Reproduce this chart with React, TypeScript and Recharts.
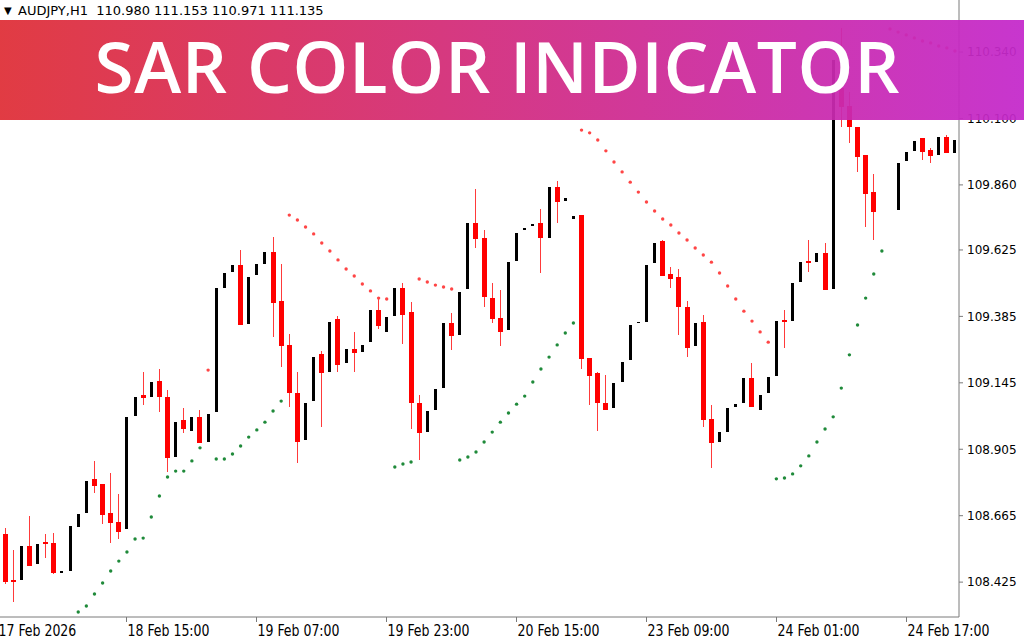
import React from 'react';
import { ComposedChart, Bar, Line, XAxis, YAxis } from 'recharts';

// x axis labels sit on every 16th bar; -1 is the bar just off the left edge
const tickIdx = [-1, 15, 31, 47, 63, 79, 95, 111];
const tickLabels = ['17 Feb 2026', '18 Feb 15:00', '19 Feb 07:00', '19 Feb 23:00', '20 Feb 15:00', '23 Feb 09:00', '24 Feb 01:00', '24 Feb 17:00'];
const priceTicks = [110.34, 110.1, 109.86, 109.625, 109.385, 109.145, 108.905, 108.665, 108.425];

const opens = [
  108.599, 108.432, 108.432, 108.556, 108.490, 108.570, 108.567, 108.461, 108.465, 108.624,
  108.675, 108.798, 108.780, 108.675, 108.643, 108.617, 109.025, 109.101, 109.094, 109.152,
  109.094, 108.877, 109.011, 108.971, 109.022, 108.931, 109.040, 109.487, 109.545, 109.571,
  109.357, 109.534, 109.574, 109.618, 109.441, 109.282, 109.108, 108.938, 109.079, 109.249,
  109.184, 109.376, 109.217, 109.267, 109.256, 109.292, 109.408, 109.329, 109.386, 109.487,
  109.401, 109.072, 108.967, 109.047, 109.126, 109.361, 109.318, 109.484, 109.722, 109.668,
  109.451, 109.379, 109.336, 109.585, 109.697, 109.711, 109.722, 109.668, 109.852, 109.802,
  109.737, 109.751, 109.235, 109.181, 109.072, 109.054, 109.148, 109.228, 109.361, 109.365,
  109.578, 109.657, 109.538, 109.527, 109.419, 109.278, 109.365, 109.014, 108.931, 108.967,
  109.058, 109.072, 109.163, 109.047, 109.108, 109.170, 109.372, 109.368, 109.509, 109.585,
  109.581, 109.614, 109.484, 110.210, 110.145, 110.069, 109.968, 109.834, null, null,
  109.769, 109.946, 109.983, 110.029, 109.986, 109.968, 110.033, 109.975,
];
const highs = [
  108.621, 108.541, 108.556, 108.664, 108.563, 108.599, 108.603, 108.465, 108.628, 108.671,
  108.791, 108.862, 108.780, 108.819, 108.744, 109.022, 109.094, 109.184, 109.148, 109.195,
  109.119, 109.004, 109.054, 109.022, 109.047, 109.032, 109.487, 109.542, 109.571, 109.625,
  109.527, 109.574, 109.618, 109.672, 109.574, 109.321, 109.184, 109.072, 109.238, 109.260,
  109.365, 109.386, 109.267, 109.329, 109.282, 109.408, 109.451, 109.383, 109.487, 109.506,
  109.437, 109.101, 109.043, 109.123, 109.361, 109.397, 109.473, 109.722, 109.845, 109.697,
  109.506, 109.480, 109.581, 109.686, 109.704, 109.719, 109.773, 109.852, 109.874, 109.813,
  109.748, 109.751, 109.235, 109.184, 109.173, 109.144, 109.220, 109.354, 109.365, 109.571,
  109.650, 109.661, 109.563, 109.556, 109.441, 109.361, 109.390, 109.065, 108.967, 109.054,
  109.069, 109.163, 109.217, 109.101, 109.166, 109.368, 109.408, 109.506, 109.581, 109.661,
  109.614, 109.650, 110.311, 110.427, 110.196, 110.069, 109.968, 109.899, null, null,
  109.939, 109.979, 110.019, 110.029, 109.993, 110.033, 110.040, 110.022,
];
const lows = [
  108.418, 108.353, 108.432, 108.483, 108.490, 108.512, 108.454, 108.461, 108.465, 108.624,
  108.675, 108.747, 108.635, 108.566, 108.581, 108.617, 109.025, 109.065, 109.094, 109.040,
  108.823, 108.877, 108.964, 108.971, 108.928, 108.931, 109.040, 109.487, 109.545, 109.354,
  109.357, 109.534, 109.574, 109.311, 109.202, 109.058, 108.855, 108.938, 109.079, 108.985,
  109.184, 109.184, 109.217, 109.184, 109.256, 109.292, 109.339, 109.329, 109.386, 109.285,
  108.978, 108.866, 108.967, 109.047, 109.126, 109.264, 109.318, 109.484, 109.632, 109.419,
  109.361, 109.278, 109.336, 109.585, 109.697, 109.711, 109.542, 109.668, 109.722, 109.802,
  109.737, 109.195, 109.065, 108.971, 109.047, 109.054, 109.148, 109.228, 109.361, 109.365,
  109.578, 109.531, 109.487, 109.318, 109.238, 109.278, 108.985, 108.837, 108.931, 108.967,
  109.058, 109.072, 109.058, 109.047, 109.108, 109.170, 109.271, 109.368, 109.509, 109.545,
  109.581, 109.480, 109.484, 110.069, 110.011, 109.907, 109.708, 109.661, null, null,
  109.769, 109.946, 109.983, 109.950, 109.939, 109.968, 109.975, 109.975,
];
const closes = [
  108.425, 108.425, 108.556, 108.483, 108.563, 108.563, 108.458, 108.465, 108.628, 108.671,
  108.791, 108.773, 108.668, 108.639, 108.606, 109.022, 109.094, 109.090, 109.148, 109.094,
  108.873, 109.004, 108.978, 109.022, 108.928, 109.032, 109.487, 109.542, 109.571, 109.354,
  109.527, 109.574, 109.618, 109.433, 109.278, 109.108, 108.931, 109.072, 109.238, 109.181,
  109.365, 109.209, 109.267, 109.253, 109.282, 109.408, 109.350, 109.383, 109.487, 109.390,
  109.072, 108.964, 109.043, 109.123, 109.361, 109.314, 109.473, 109.722, 109.665, 109.455,
  109.376, 109.329, 109.581, 109.686, 109.704, 109.719, 109.668, 109.852, 109.798, 109.813,
  109.748, 109.231, 109.170, 109.072, 109.047, 109.144, 109.220, 109.354, 109.365, 109.571,
  109.650, 109.531, 109.520, 109.419, 109.271, 109.361, 109.011, 108.928, 108.967, 109.054,
  109.069, 109.163, 109.058, 109.101, 109.166, 109.368, 109.365, 109.506, 109.581, 109.578,
  109.614, 109.480, 110.311, 110.141, 110.069, 109.961, 109.827, 109.762, null, null,
  109.939, 109.979, 110.019, 109.979, 109.964, 110.033, 109.975, 110.022,
];

// parabolic SAR value per bar, and on which side it sits (G = below / bullish, R = above)
const sar = [
  null, null, null, null, null, null, null, null, null, 108.317,
  108.339, 108.382, 108.422, 108.465, 108.501, 108.534, 108.581, 108.584, 108.660, 108.736,
  108.805, 108.826, 108.826, 108.863, 108.910, 109.191, 108.870, 108.870, 108.888, 108.917,
  108.949, 108.975, 109.003, 109.043, 109.079, 109.751, 109.733, 109.708, 109.683, 109.650,
  109.621, 109.589, 109.556, 109.531, 109.502, 109.477, 109.451, 109.448, 108.841, 108.852,
  108.859, 109.520, 109.509, 109.498, 109.491, 109.484, 108.866, 108.877, 108.895, 108.931,
  108.967, 109.003, 109.036, 109.068, 109.097, 109.148, 109.195, 109.238, 109.282, 109.325,
  109.361, 110.058, 110.048, 110.022, 109.983, 109.943, 109.907, 109.870, 109.834, 109.798,
  109.766, 109.737, 109.715, 109.686, 109.661, 109.632, 109.607, 109.581, 109.542, 109.495,
  109.448, 109.404, 109.368, 109.329, 109.292, 108.798, 108.801, 108.816, 108.845, 108.881,
  108.931, 108.978, 109.022, 109.126, 109.246, 109.354, 109.451, 109.538, 109.621, 110.423,
  110.412, 110.402, 110.391, 110.380, 110.373, 110.362, 110.355, 110.344,
];
const sarSide =
  '.........' + 'GGGGGGGGGGGGGGGG' + 'R' + 'GGGGGGGGG' + 'RRRRRRRRRRRRR' + 'GGG' + 'RRRRR' +
  'GGGGGGGGGGGGGGG' + 'RRRRRRRRRRRRRRRRRRRRRRRR' + 'GGGGGGGGGGGGGG' + 'RRRRRRRRR';

const rows = [{ idx: -1, o: null, h: null, l: null, c: null, sarG: null, sarR: null }].concat(
  opens.map((o, i) => ({
    idx: i,
    o,
    h: highs[i],
    l: lows[i],
    c: closes[i],
    sarG: sarSide[i] === 'G' ? sar[i] : null,
    sarR: sarSide[i] === 'R' ? sar[i] : null,
  })) as any
);

const axisGray = '#7a7a7a';

function Candle(props: any) {
  const { x, y, width, height, payload } = props;
  if (!payload || payload.o == null) return <g />;
  const { o, h, l, c } = payload;
  const span = h - l;
  const py = (v: number) => (span > 0 ? y + ((h - v) / span) * height : y);
  const up = c >= o;
  const cx = Math.floor(x + width / 2);
  const bw = up ? 3 : 5;
  const top = py(Math.max(o, c));
  const bot = py(Math.min(o, c));
  return (
    <g shapeRendering="crispEdges">
      <line x1={cx + 0.5} x2={cx + 0.5} y1={y} y2={y + height} stroke={up ? '#000' : '#ff3a3a'} strokeWidth={1} />
      <rect x={cx - (bw - 1) / 2} y={top} width={bw} height={Math.max(bot - top, 1.5)} fill={up ? '#000' : '#ff0000'} />
    </g>
  );
}

const greenDot = (p: any) =>
  p.payload?.sarG == null || p.cy == null ? <g key={p.key} /> : <circle key={p.key} cx={p.cx} cy={p.cy} r={1.7} fill="#1f8a3a" />;
const redDot = (p: any) =>
  p.payload?.sarR == null || p.cy == null ? <g key={p.key} /> : <circle key={p.key} cx={p.cx} cy={p.cy} r={1.7} fill="#ff4545" />;

function TimeTick(props: any) {
  const { x, y, payload } = props;
  const k = tickIdx.indexOf(payload.value);
  const tx = Math.floor(x) + 0.5;
  return (
    <g>
      <line x1={tx} x2={tx} y1={y} y2={y + 5} stroke={axisGray} shapeRendering="crispEdges" />
      <text
        transform={`translate(${tx + 1},${y + 19}) scale(0.87,1)`}
        fontSize={16}
        fontFamily="'Liberation Sans Narrow', 'DejaVu Sans Condensed', sans-serif"
        fill="#000"
      >
        {tickLabels[k]}
      </text>
    </g>
  );
}

export default function App() {
  return (
    <div style={{ position: 'absolute', left: 0, top: 0, width: 1024, height: 640, overflow: 'hidden', background: '#fff' }}>
      <div style={{ position: 'absolute', left: -7, top: 0 }}>
        <ComposedChart width={1031} height={640} data={rows} margin={{ top: 0, right: 0, bottom: 0, left: 0 }} barCategoryGap={0} barGap={0}>
          <XAxis
            dataKey="idx"
            type="category"
            ticks={tickIdx}
            interval={0}
            tick={<TimeTick />}
            tickLine={false}
            tickSize={0}
            tickMargin={0}
            axisLine={{ stroke: axisGray }}
            height={23}
          />
          <YAxis
            orientation="right"
            type="number"
            width={65}
            domain={[108.299, 110.528]}
            allowDataOverflow
            ticks={priceTicks}
            interval={0}
            tickFormatter={(v: number) => v.toFixed(3)}
            tick={{ fontSize: 12, fill: '#000', fontFamily: 'DejaVu Sans' }}
            tickSize={4}
            tickMargin={4}
            axisLine={{ stroke: axisGray }}
            tickLine={{ stroke: axisGray }}
          />
          <Bar dataKey={(d: any) => (d.o == null ? null : [d.l, d.h])} shape={<Candle />} isAnimationActive={false} />
          <Line dataKey="sarG" stroke="none" dot={greenDot} activeDot={false} isAnimationActive={false} />
          <Line dataKey="sarR" stroke="none" dot={redDot} activeDot={false} isAnimationActive={false} />
        </ComposedChart>
      </div>
      <svg width={1024} height={640} style={{ position: 'absolute', left: 0, top: 0, pointerEvents: 'none' }}>
        <defs>
          <linearGradient id="bannerFill" x1="0" x2="1" y1="0" y2="0">
            <stop offset="0" stopColor="#df2f37" />
            <stop offset="1" stopColor="#c429cb" />
          </linearGradient>
        </defs>
        <text x={4} y={14} fontSize={10} fontFamily="DejaVu Sans" fill="#000">▼</text>
        <text x={18} y={15} fontSize={13} fontFamily="DejaVu Sans" fill="#000" style={{ whiteSpace: 'pre' }}>
          AUDJPY,H1  110.980 111.153 110.971 111.135
        </text>
        <rect x={0} y={20} width={1024} height={100} fill="url(#bannerFill)" opacity={0.94} />
        <text
          x={497}
          y={93}
          textAnchor="middle"
          fill="#fff"
          fontSize={71}
          fontWeight={600}
          fontFamily="'Open Sans', sans-serif"
          textLength={805}
          lengthAdjust="spacing"
        >
          SAR COLOR INDICATOR
        </text>
      </svg>
    </div>
  );
}
